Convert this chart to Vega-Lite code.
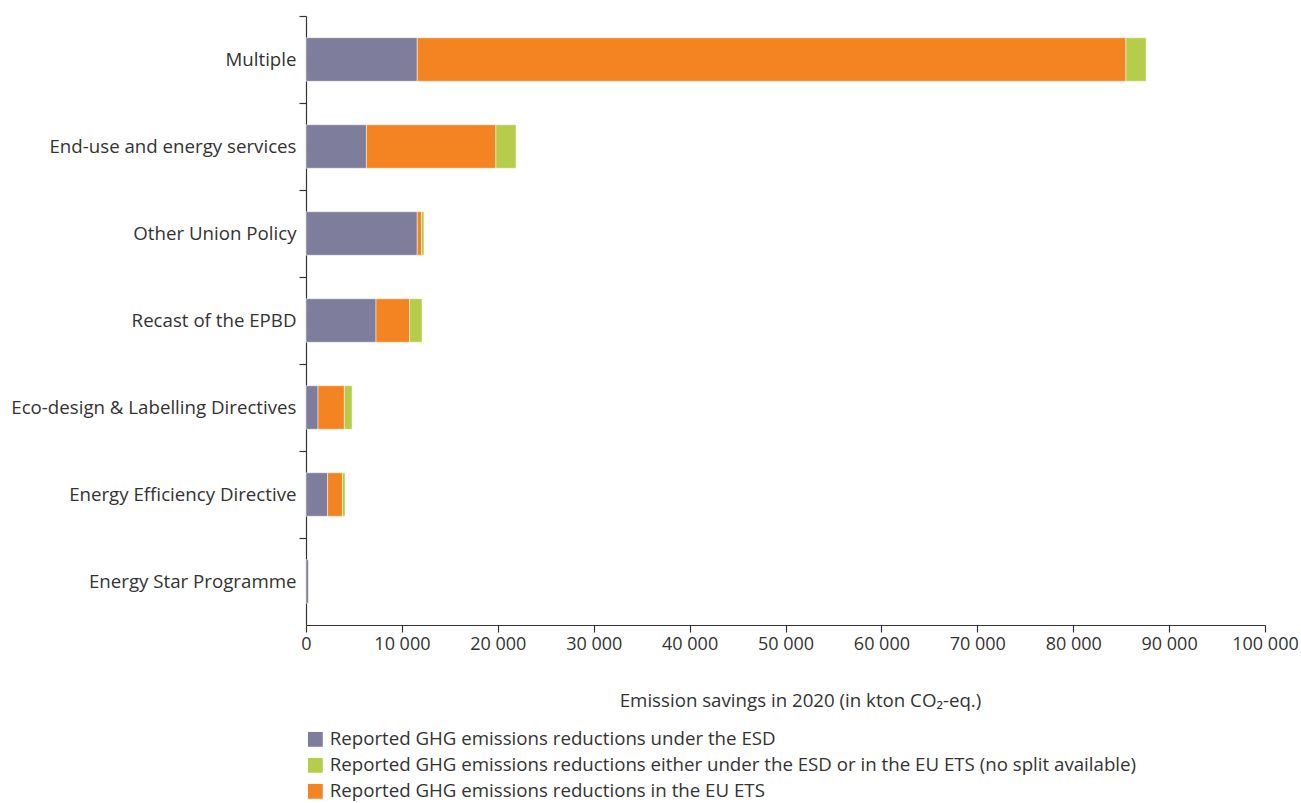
{
  "$schema": "https://vega.github.io/schema/vega-lite/v6.json",
  "width": 959,
  "height": 609,
  "autosize": {"type": "none"},
  "padding": {"left": 306, "top": 16, "right": 36, "bottom": 178},
  "background": "white",
  "config": {
    "font": "Open Sans",
    "view": {"stroke": null},
    "axis": {"labelColor": "#333333", "titleColor": "#333333", "domainColor": "#333333", "tickColor": "#333333", "labelFont": "Open Sans", "titleFont": "Open Sans"}
  },
  "data": {
    "values": [
      {"policy": "Multiple", "series": "Reported GHG emissions reductions under the ESD", "stackOrder": 1, "value": 11600},
      {"policy": "Multiple", "series": "Reported GHG emissions reductions in the EU ETS", "stackOrder": 2, "value": 73900},
      {"policy": "Multiple", "series": "Reported GHG emissions reductions either under the ESD or in the EU ETS (no split available)", "stackOrder": 3, "value": 2100},
      {"policy": "End-use and energy services", "series": "Reported GHG emissions reductions under the ESD", "stackOrder": 1, "value": 6300},
      {"policy": "End-use and energy services", "series": "Reported GHG emissions reductions in the EU ETS", "stackOrder": 2, "value": 13500},
      {"policy": "End-use and energy services", "series": "Reported GHG emissions reductions either under the ESD or in the EU ETS (no split available)", "stackOrder": 3, "value": 2100},
      {"policy": "Other Union Policy", "series": "Reported GHG emissions reductions under the ESD", "stackOrder": 1, "value": 11600},
      {"policy": "Other Union Policy", "series": "Reported GHG emissions reductions in the EU ETS", "stackOrder": 2, "value": 450},
      {"policy": "Other Union Policy", "series": "Reported GHG emissions reductions either under the ESD or in the EU ETS (no split available)", "stackOrder": 3, "value": 250},
      {"policy": "Recast of the EPBD", "series": "Reported GHG emissions reductions under the ESD", "stackOrder": 1, "value": 7300},
      {"policy": "Recast of the EPBD", "series": "Reported GHG emissions reductions in the EU ETS", "stackOrder": 2, "value": 3500},
      {"policy": "Recast of the EPBD", "series": "Reported GHG emissions reductions either under the ESD or in the EU ETS (no split available)", "stackOrder": 3, "value": 1300},
      {"policy": "Eco-design & Labelling Directives", "series": "Reported GHG emissions reductions under the ESD", "stackOrder": 1, "value": 1250},
      {"policy": "Eco-design & Labelling Directives", "series": "Reported GHG emissions reductions in the EU ETS", "stackOrder": 2, "value": 2750},
      {"policy": "Eco-design & Labelling Directives", "series": "Reported GHG emissions reductions either under the ESD or in the EU ETS (no split available)", "stackOrder": 3, "value": 800},
      {"policy": "Energy Efficiency Directive", "series": "Reported GHG emissions reductions under the ESD", "stackOrder": 1, "value": 2250},
      {"policy": "Energy Efficiency Directive", "series": "Reported GHG emissions reductions in the EU ETS", "stackOrder": 2, "value": 1550},
      {"policy": "Energy Efficiency Directive", "series": "Reported GHG emissions reductions either under the ESD or in the EU ETS (no split available)", "stackOrder": 3, "value": 270},
      {"policy": "Energy Star Programme", "series": "Reported GHG emissions reductions under the ESD", "stackOrder": 1, "value": 250}
    ]
  },
  "mark": {"type": "bar", "stroke": "#ffffff", "strokeWidth": 0.6, "strokeOpacity": 0.8},
  "encoding": {
    "y": {
      "field": "policy",
      "type": "nominal",
      "sort": ["Multiple", "End-use and energy services", "Other Union Policy", "Recast of the EPBD", "Eco-design & Labelling Directives", "Energy Efficiency Directive", "Energy Star Programme"],
      "scale": {"paddingInner": 0.5, "paddingOuter": 0.25},
      "axis": {
        "title": null,
        "bandPosition": -0.5,
        "tickSize": 7,
        "labelFontSize": 18.7,
        "labelPadding": 3,
        "labelLimit": 400,
        "domainWidth": 1.2,
        "tickWidth": 1.2
      }
    },
    "x": {
      "field": "value",
      "type": "quantitative",
      "stack": "zero",
      "scale": {"domain": [0, 100000], "nice": false},
      "axis": {
        "title": "Emission savings in 2020 (in kton CO₂-eq.)",
        "values": [0, 10000, 20000, 30000, 40000, 50000, 60000, 70000, 80000, 90000, 100000],
        "labelExpr": "replace(format(datum.value, ',d'), ',', ' ')",
        "grid": false,
        "tickSize": 7,
        "labelFontSize": 18,
        "labelPadding": 3,
        "labelFlush": false,
        "titleFontSize": 18.7,
        "titleFontWeight": "normal",
        "titleX": 494,
        "titleY": 75,
        "titleBaseline": "middle",
        "titleAnchor": null,
        "domainWidth": 1.2,
        "tickWidth": 1.2
      }
    },
    "color": {
      "field": "series",
      "type": "nominal",
      "scale": {
        "domain": ["Reported GHG emissions reductions under the ESD", "Reported GHG emissions reductions either under the ESD or in the EU ETS (no split available)", "Reported GHG emissions reductions in the EU ETS"],
        "range": ["#7e7d9c", "#b6cc4b", "#f48422"]
      },
      "legend": {
        "title": null,
        "orient": "none",
        "legendX": 0,
        "legendY": 714,
        "direction": "vertical",
        "symbolType": "square",
        "symbolSize": 220,
        "symbolStrokeWidth": 0,
        "labelFontSize": 18.7,
        "labelColor": "#333333",
        "labelFont": "Open Sans",
        "labelLimit": 1000,
        "labelOffset": 5,
        "rowPadding": 6
      }
    },
    "order": {"field": "stackOrder", "type": "quantitative"}
  }
}
